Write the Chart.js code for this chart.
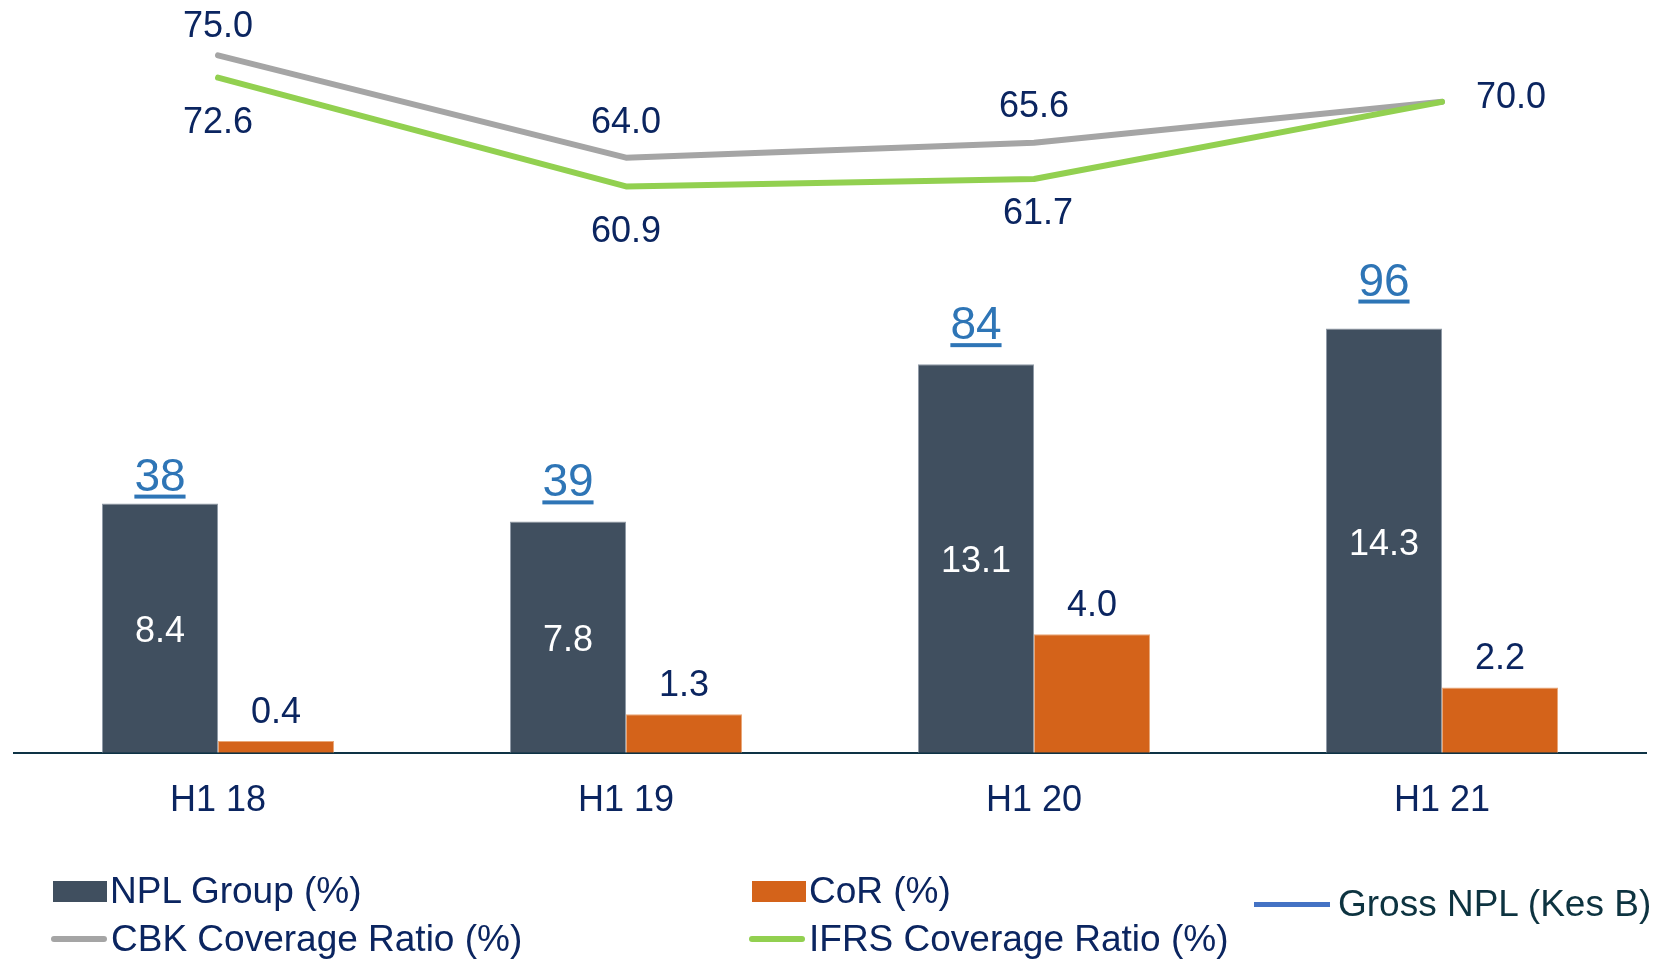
<!DOCTYPE html>
<html>
<head>
<meta charset="utf-8">
<title>NPL and coverage</title>
<script src="https://cdn.jsdelivr.net/npm/chart.js@4.4.1/dist/chart.umd.min.js"></script>
<style>
  html, body { margin: 0; padding: 0; background: #fff; }
  #wrap { position: relative; width: 1678px; height: 960px; }
  #chart { position: absolute; left: 0; top: 0; }
  .key {
    position: absolute; display: flex; align-items: center; height: 44px;
    font: 37px "Liberation Sans", Arial, sans-serif; color: #0b2560; white-space: nowrap;
  }
  .key .box { display: inline-block; width: 54px; height: 21px; margin-right: 3px; }
  .key .ln { display: inline-block; width: 56px; height: 6px; border-radius: 3px; margin-right: 4px; }
</style>
</head>
<body>
<div id="wrap">
  <canvas id="chart" width="1678" height="960"></canvas>
  <div class="key" style="left:53px; top:869px"><span class="box" style="background:#404f5f"></span>NPL Group (%)</div>
  <div class="key" style="left:752px; top:869px"><span class="box" style="background:#d4631a"></span>CoR (%)</div>
  <div class="key" style="left:51px; top:917px"><span class="ln" style="background:#a5a5a5"></span>CBK Coverage Ratio (%)</div>
  <div class="key" style="left:749px; top:917px"><span class="ln" style="background:#92d050"></span>IFRS Coverage Ratio (%)</div>
  <div class="key" style="left:1254px; top:882px; color:#0d3340"><span class="ln" style="background:#4472c4; width:76px; height:5px; border-radius:0; margin-right:8px"></span>Gross NPL (Kes B)</div>
</div>
<script>
const periods = ['H1 18', 'H1 19', 'H1 20', 'H1 21'];
const nplGroup = [8.4, 7.8, 13.1, 14.3];
const costOfRisk = [0.4, 1.3, 4.0, 2.2];
const cbkCoverage = [75.0, 64.0, 65.6, 70.0];
const ifrsCoverage = [72.6, 60.9, 61.7, 70.0];
const grossNpl = [38, 39, 84, 96];

const NAVY = '#0b2560';
const FONT = '"Liberation Sans", Arial, sans-serif';
Chart.defaults.font.family = FONT;

// canvas 'middle' sits a little high for digits, nudge down
const MID = 4;

// text on the bars and beside the coverage lines
const valueLabels = {
  id: 'valueLabels',
  afterDatasetsDraw(chart) {
    const { ctx } = chart;
    ctx.save();
    ctx.textAlign = 'center';
    ctx.textBaseline = 'middle';
    ctx.font = `36px ${FONT}`;

    const nplMeta = chart.getDatasetMeta(0);
    nplMeta.data.forEach((bar, i) => {
      ctx.fillStyle = '#ffffff';
      ctx.fillText(nplGroup[i].toFixed(1), bar.x, (bar.y + bar.base) / 2 + MID);
    });

    chart.getDatasetMeta(1).data.forEach((bar, i) => {
      ctx.fillStyle = NAVY;
      ctx.fillText(costOfRisk[i].toFixed(1), bar.x, bar.y - 32 + MID);
    });

    [2, 3].forEach((di) => {
      const ds = chart.data.datasets[di];
      chart.getDatasetMeta(di).data.forEach((pt, i) => {
        const shift = ds.labelShift[i];
        if (!shift) return;
        ctx.fillStyle = NAVY;
        ctx.fillText(ds.data[i].toFixed(1), pt.x + shift[0], pt.y + shift[1] + MID - 1);
      });
    });

    // gross NPL, underlined, sitting on top of the NPL bars
    const lift = [13, 25, 25, 33];
    ctx.font = `46px ${FONT}`;
    ctx.textBaseline = 'alphabetic';
    ctx.fillStyle = '#2e75b6';
    nplMeta.data.forEach((bar, i) => {
      const txt = String(grossNpl[i]);
      const y = bar.y - lift[i];
      const w = ctx.measureText(txt).width;
      ctx.fillText(txt, bar.x, y);
      ctx.fillRect(bar.x - w / 2, y + 4, w, 4);
    });
    ctx.restore();
  },
};

new Chart(document.getElementById('chart'), {
  data: {
    labels: periods,
    datasets: [
      {
        type: 'bar',
        label: 'NPL Group (%)',
        data: nplGroup,
        backgroundColor: '#404f5f',
        borderColor: '#8f9aa6',
        borderWidth: 1,
        yAxisID: 'y',
        order: 2,
      },
      {
        type: 'bar',
        label: 'CoR (%)',
        data: costOfRisk,
        backgroundColor: '#d4631a',
        borderColor: '#eaa777',
        borderWidth: 1,
        yAxisID: 'y',
        order: 2,
      },
      {
        type: 'line',
        label: 'CBK Coverage Ratio (%)',
        data: cbkCoverage,
        borderColor: '#a5a5a5',
        borderWidth: 6,
        borderCapStyle: 'round',
        borderJoinStyle: 'round',
        pointRadius: 0,
        tension: 0,
        yAxisID: 'y2',
        order: 1,
        labelShift: [[0, -31], [0, -38], [0, -39], [69, -7]],
      },
      {
        type: 'line',
        label: 'IFRS Coverage Ratio (%)',
        data: ifrsCoverage,
        borderColor: '#92d050',
        borderWidth: 6,
        borderCapStyle: 'round',
        borderJoinStyle: 'round',
        pointRadius: 0,
        tension: 0,
        yAxisID: 'y2',
        order: 0,
        labelShift: [[0, 42], [0, 43], [4, 32], null],
      },
    ],
  },
  options: {
    responsive: false,
    animation: false,
    layout: { padding: { left: 14, right: 32, top: 20, bottom: 110 } },
    plugins: { legend: { display: false }, tooltip: { enabled: false } },
    datasets: { bar: { barPercentage: 1, categoryPercentage: 0.569 } },
    scales: {
      x: {
        grid: { display: false, drawTicks: false },
        border: { display: true, color: '#0e3345', width: 2 },
        ticks: { color: NAVY, font: { size: 36 }, padding: 27 },
      },
      y: { display: false, min: 0, max: 24.7 },
      y2: { display: false, min: 0, max: 78.8, position: 'right' },
    },
  },
  plugins: [valueLabels],
});
</script>
</body>
</html>
